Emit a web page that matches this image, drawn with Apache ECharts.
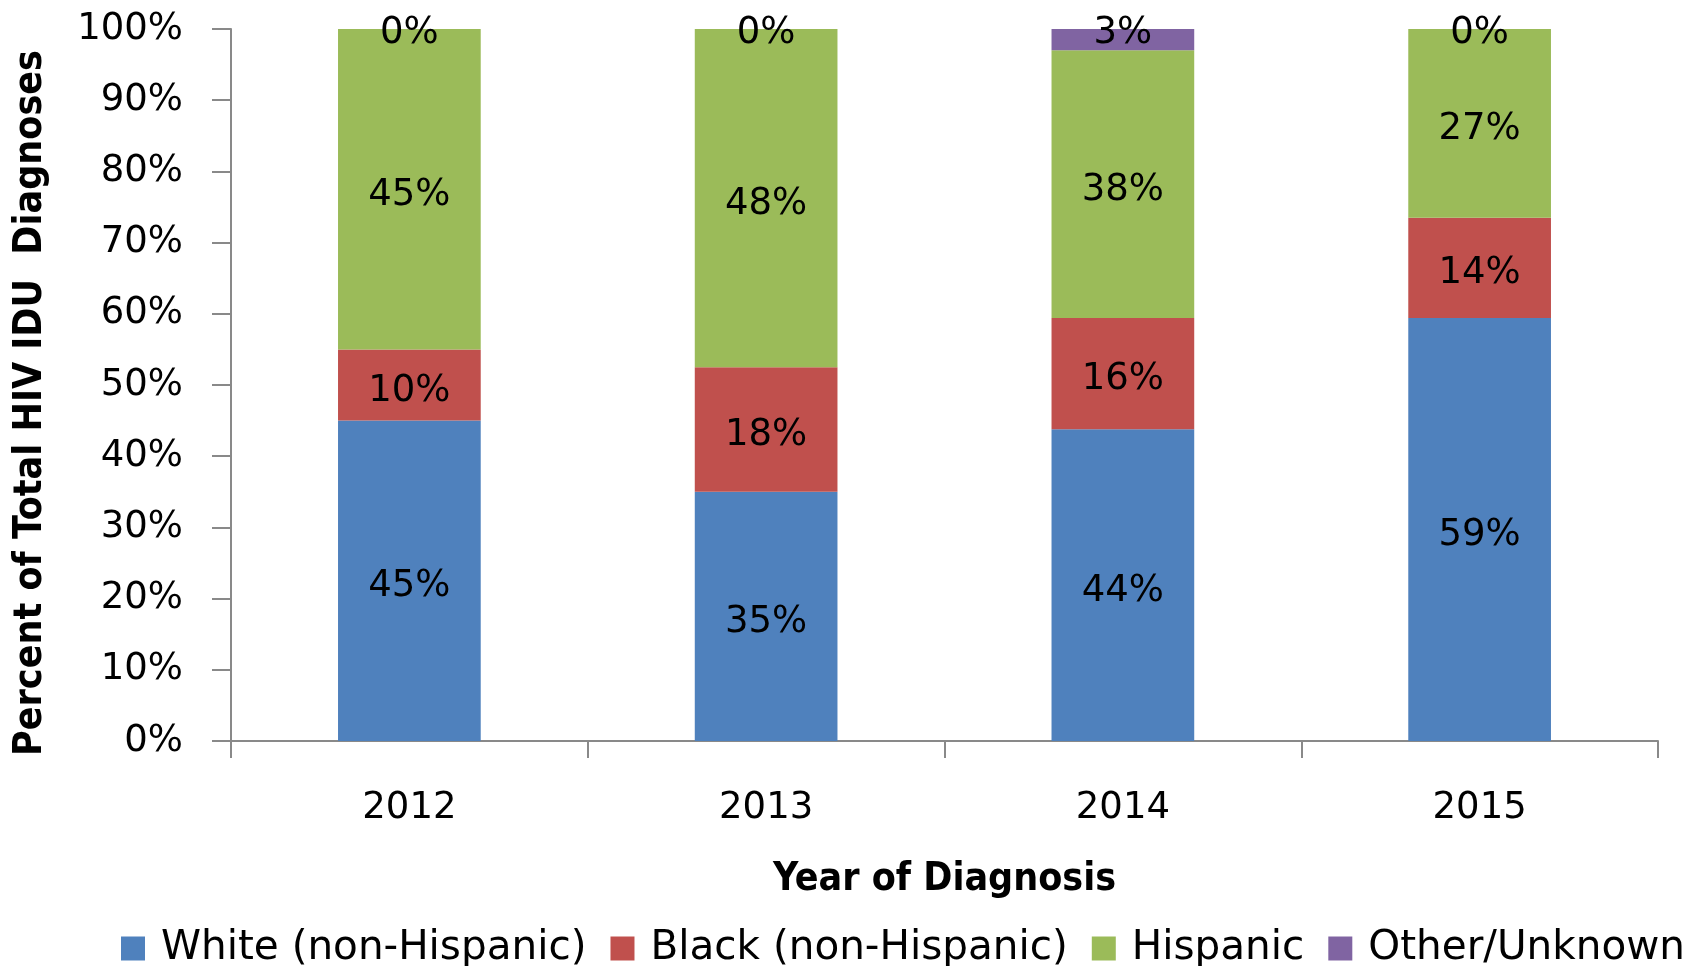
<!DOCTYPE html>
<html><head><meta charset="utf-8">
<script src="https://cdn.jsdelivr.net/npm/echarts@6/dist/echarts.min.js"></script>
<style>html,body{margin:0;padding:0;background:#fff}#c{width:1703px;height:966px}</style>
</head><body><div id="c"></div>
<script>
const years = ['2012', '2013', '2014', '2015'];
const white = [45.0, 35.0, 43.8, 59.4];
const black = [10.0, 17.5, 15.6, 14.1];
const hispanic = [45.0, 47.5, 37.6, 26.5];
const other = [0.0, 0.0, 3.0, 0.0];
const seriesNames = ['White (non-Hispanic)', 'Black (non-Hispanic)', 'Hispanic', 'Other/Unknown'];
const colors = ['#4F81BD', '#C0504D', '#9BBB59', '#8064A2'];

const FONT = 'DejaVu Sans';
const BOLD = '"DejaVu Sans Condensed", "DejaVu Sans"';
const chart = echarts.init(document.getElementById('c'));
const lbl = (extra) => Object.assign({
  show: true, position: 'inside', color: '#000', fontFamily: FONT, fontSize: 37,
  offset: [0, 6],
  formatter: p => Math.round(p.value) + '%'
}, extra || {});
const mk = (name, data, color, labelExtra) => ({
  name, type: 'bar', stack: 'total', data, barWidth: '40%',
  itemStyle: { color }, label: lbl(labelExtra)
});
chart.setOption({
  animation: false,
  color: colors,
  grid: { left: 231, right: 45, top: 29, bottom: 225, containLabel: false },
  legend: {
    left: 121, top: 928, padding: 0, itemWidth: 24, itemHeight: 24, itemGap: 24, icon: 'rect',
    textStyle: { fontFamily: FONT, fontSize: 40.5, color: '#000', padding: [0, 0, 0, 11] },
    data: seriesNames
  },
  xAxis: {
    type: 'category', data: years,
    name: 'Year of Diagnosis', nameLocation: 'middle', nameGap: 119,
    nameTextStyle: { fontFamily: BOLD, fontWeight: 'bold', fontSize: 39, color: '#000' },
    axisLine: { lineStyle: { color: '#898989', width: 2 } },
    axisTick: { show: true, length: 17, lineStyle: { color: '#898989', width: 2 } },
    axisLabel: { fontFamily: FONT, fontSize: 37, color: '#000', margin: 49 },
    splitLine: { show: false }
  },
  yAxis: {
    type: 'value', min: 0, max: 100, interval: 10,
    name: 'Percent of Total HIV IDU  Diagnoses', nameLocation: 'middle', nameGap: 181, nameRotate: 90,
    nameTextStyle: { fontFamily: BOLD, fontWeight: 'bold', fontSize: 39, color: '#000', padding: [0, 36, 0, 0] },
    axisLine: { show: true, lineStyle: { color: '#898989', width: 2 } },
    axisTick: { show: true, length: 19, lineStyle: { color: '#898989', width: 2 } },
    axisLabel: { fontFamily: FONT, fontSize: 37, color: '#000', margin: 48, formatter: '{value}%' },
    splitLine: { show: false }
  },
  series: [
    mk(seriesNames[0], white, colors[0]),
    mk(seriesNames[1], black, colors[1]),
    mk(seriesNames[2], hispanic, colors[2]),
    mk(seriesNames[3], other, colors[3], { position: ['50%', 0], align: 'center', verticalAlign: 'middle', offset: [0, 4] })
  ]
});
</script></body></html>
